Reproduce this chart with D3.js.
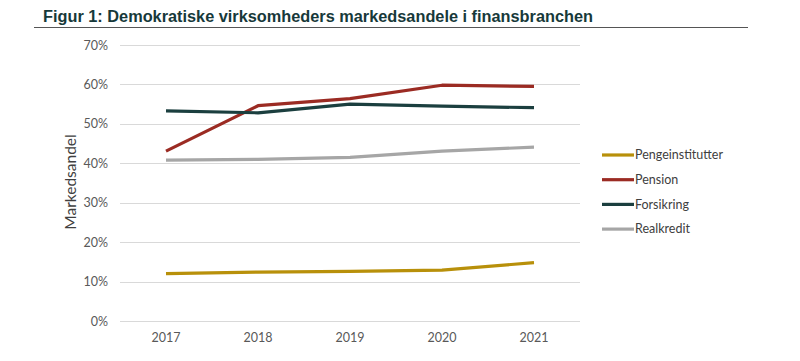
<!DOCTYPE html>
<html><head><meta charset="utf-8">
<script src="https://cdn.jsdelivr.net/npm/d3@7"></script>
<style>
html,body{margin:0;padding:0;background:#fff;}
svg{display:block;}
</style></head>
<body>
<svg id="chart" width="800" height="361"></svg>
<script>
const years = ["2017","2018","2019","2020","2021"];
const pengeinstitutter = [12.0, 12.4, 12.6, 12.9, 14.8];
const pension = [43.1, 54.6, 56.4, 59.8, 59.5];
const forsikring = [53.3, 52.8, 55.0, 54.5, 54.1];
const realkredit = [40.8, 41.0, 41.5, 43.1, 44.1];
const seriesNames = ["Pengeinstitutter","Pension","Forsikring","Realkredit"];
const seriesColors = ["#B8900A","#9B2B23","#1B3F3F","#A6A6A6"];
const yTicks = [0,10,20,30,40,50,60,70];
const titleText = "Figur 1: Demokratiske virksomheders markedsandele i finansbranchen";
const yLabel = "Markedsandel";

const series = [pengeinstitutter, pension, forsikring, realkredit].map((v,i)=>({name:seriesNames[i], color:seriesColors[i], values:v}));

const svg = d3.select("#chart");
const axisFont = "Lato, 'Open Sans', sans-serif";

// title
svg.append("text").attr("x",43).attr("y",22)
  .attr("font-family","'Liberation Sans',Arial,sans-serif")
  .attr("font-weight","bold").attr("font-size",16.3).attr("fill","#17393a")
  .attr("textLength",550).attr("lengthAdjust","spacingAndGlyphs")
  .text(titleText);
svg.append("line").attr("x1",34).attr("x2",748).attr("y1",27.5).attr("y2",27.5)
  .attr("stroke","#555").attr("stroke-width",1.2);

const x = d3.scaleBand().domain(years).range([120,580]);
const y = d3.scaleLinear().domain([0,70]).range([321,45]);

// grid
svg.append("g").selectAll("line").data(yTicks).join("line")
  .attr("x1",120).attr("x2",580)
  .attr("y1",d=>Math.round(y(d))+0.5).attr("y2",d=>Math.round(y(d))+0.5)
  .attr("stroke","#d9d9d9").attr("stroke-width",1);

// y axis
const yAxis = svg.append("g").attr("transform","translate(108,0)")
  .call(d3.axisLeft(y).tickValues(yTicks).tickSize(0).tickPadding(0).tickFormat(d=>d+"%"));
yAxis.select(".domain").remove();
yAxis.selectAll("text").attr("font-family",axisFont).attr("font-size",12.5).attr("fill","#595959");

// x axis
const xAxis = svg.append("g").attr("transform","translate(0,333)")
  .call(d3.axisBottom(x).tickSize(0).tickPadding(0));
xAxis.select(".domain").remove();
xAxis.selectAll("text").attr("font-family",axisFont).attr("font-size",12.5).attr("fill","#595959");

// y label
svg.append("text").attr("transform","translate(76,182) rotate(-90)")
  .attr("text-anchor","middle").attr("font-family",axisFont).attr("font-size",15.5).attr("fill","#404040")
  .text(yLabel);

// lines
const line = d3.line().x((d,i)=>x(years[i])+x.bandwidth()/2).y(d=>y(d));
svg.append("g").selectAll("path").data(series).join("path")
  .attr("d",d=>line(d.values)).attr("fill","none")
  .attr("stroke",d=>d.color).attr("stroke-width",3.2).attr("stroke-linejoin","round");

// legend
const lg = svg.append("g").selectAll("g").data(series).join("g")
  .attr("transform",(d,i)=>`translate(602,${155+i*24.7})`);
lg.append("line").attr("x1",0).attr("x2",32).attr("y1",0).attr("y2",0)
  .attr("stroke",d=>d.color).attr("stroke-width",3.2);
lg.append("text").attr("x",33).attr("y",0).attr("dy","0.35em")
  .attr("font-family",axisFont).attr("font-size",12.5).attr("fill","#404040")
  .text(d=>d.name);
</script>
</body></html>
